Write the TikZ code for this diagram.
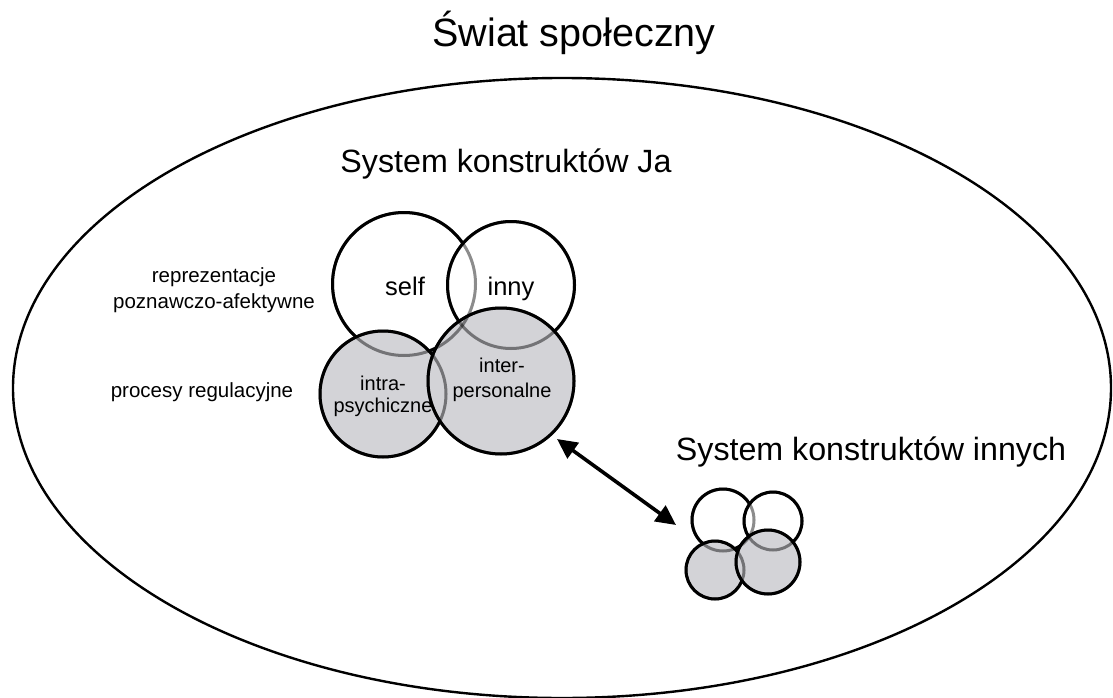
\documentclass[tikz,border=0pt]{standalone}
\usepackage{fontspec}
\setmainfont{Liberation Sans}
\usetikzlibrary{arrows.meta}
\definecolor{procfill}{RGB}{211,211,215}
\begin{document}
\begin{tikzpicture}[x=1pt,y=-1pt,
  ring/.style={circle, draw=black, line width=3pt, inner sep=0pt, minimum size=#1},
  repr/.style={ring=#1, fill=white},
  proc/.style={ring=#1, fill=procfill},
  seen through/.style={draw=black, line width=3pt, draw opacity=0.45},
  title/.style={font=\fontsize{39.5}{44}\selectfont, anchor=base},
  heading/.style={font=\fontsize{32.2}{36}\selectfont, anchor=base},
  inlabel/.style={font=\fontsize{25.5}{30}\selectfont, anchor=base},
  inlabelsmall/.style={font=\fontsize{20}{24}\selectfont, anchor=base},
  sidelabel/.style={font=\fontsize{20.5}{24}\selectfont, anchor=base},
  link/.style={line width=3.6pt, {Triangle[length=20pt,width=19pt]}-{Triangle[length=20pt,width=19pt]}}]
\useasboundingbox (0,0) rectangle (1113,698);

% the social world
\coordinate (world) at (562,388);
\draw[line width=2.4pt] (world) ellipse [x radius=549, y radius=310];
\node[title] (worldtitle) at (574,47) {Świat społeczny};

% own construct system
\node[heading] (jatitle) at (506,172) {System konstruktów Ja};
\node[repr=143pt] (self) at (404,284) {};
\node[repr=127pt] (inny) at (511,285) {};
\node[proc=126pt] (intra) at (383,394) {};
\node[proc=146pt] (inter) at (501,381) {};
\foreach \n/\r in {self/71.5, inny/63.5, intra/63, inter/73}
  \draw[seen through] (\n.center) circle[radius=\r];

\node[inlabel] (selflabel) at (405,295) {self};
\node[inlabel] (innylabel) at (511,295) {inny};
\node[inlabelsmall] (intra1) at (383,390) {intra-};
\node[inlabelsmall] (intra2) at (383,412) {psychiczne};
\node[inlabelsmall] (inter1) at (502,372) {inter-};
\node[inlabelsmall] (inter2) at (502,397) {personalne};

\node[sidelabel] (repr1) at (214,282) {reprezentacje};
\node[sidelabel] (repr2) at (214,308) {poznawczo-afektywne};
\node[sidelabel] (procl) at (202,397) {procesy regulacyjne};

% construct systems of others
\node[heading] (othtitle) at (871,460) {System konstruktów innych};
\node[repr=62pt] (otl) at (723,520) {};
\node[repr=58pt] (otr) at (773,521) {};
\node[proc=58pt] (obl) at (715,570) {};
\node[proc=64pt] (obr) at (768,562) {};
\foreach \n/\r in {otl/31, otr/29, obl/29, obr/32}
  \draw[seen through] (\n.center) circle[radius=\r];

% mutual influence
\coordinate (linkA) at (557,439);
\coordinate (linkB) at (676,525);
\draw[link] (linkA) -- (linkB);
\end{tikzpicture}
\end{document}
